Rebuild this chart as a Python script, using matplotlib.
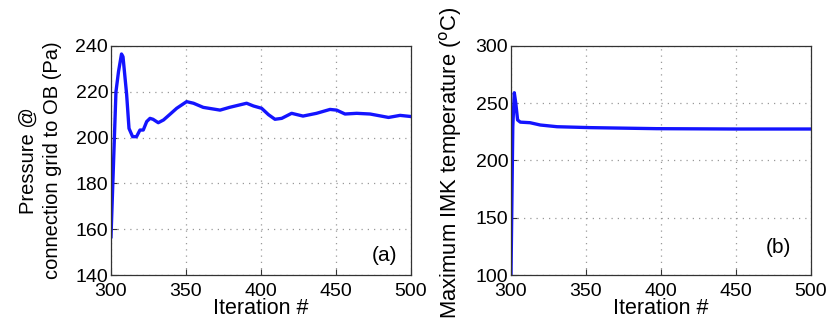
import matplotlib
matplotlib.use("Agg")
import matplotlib.pyplot as plt

plt.rcParams['font.family'] = ['Liberation Sans', 'DejaVu Sans']

iter_a = [300, 303.3, 305, 307, 308, 310.4, 312, 314.4, 317, 319.3, 321.5, 323.8, 326, 328,
          331.5, 335, 339, 343.8, 350.4, 355, 361.5, 372.7, 379, 390.4, 395, 400.4, 405, 409.3,
          413.8, 420.4, 428, 437, 446, 450.4, 456, 463.8, 472.7, 485, 492.7, 500]
pressure = [156.7, 220, 228.8, 236.5, 235.3, 219, 204, 200.4, 200.4, 203.3, 203.3, 207, 208.4, 208,
            206.5, 207.7, 210, 212.8, 215.7, 215, 213.2, 212, 213.2, 215, 213.8, 212.8, 210, 208,
            208.4, 210.6, 209.4, 210.6, 212.3, 212, 210.3, 210.6, 210.3, 208.8, 209.7, 209.2]

iter_b = [300, 301.2, 302.2, 303.2, 304.4, 306.2, 312.7, 319.5, 330.7, 353, 397, 450, 500]
temperature = [100, 229.5, 259.2, 250, 235.4, 233.5, 233, 231, 229.5, 228.7, 227.8, 227.5, 227.5]

xticks = [300, 350, 400, 450, 500]
yticks_a = [140, 160, 180, 200, 220, 240]
yticks_b = [100, 150, 200, 250, 300]

fig = plt.figure(figsize=(8.29, 3.23), dpi=100)
ax1 = fig.add_axes([0.1339, 0.1486, 0.3619, 0.709])
ax2 = fig.add_axes([0.6164, 0.1486, 0.3619, 0.709])

panels = [
    (ax1, iter_a, pressure, yticks_a, '(a)', (0.913, 0.087),
     'Pressure @\nconnection grid to OB (Pa)', 14.5, -0.165, 0.5),
    (ax2, iter_b, temperature, yticks_b, '(b)', (0.89, 0.122),
     'Maximum IMK temperature ($^{\\mathrm{o}}$C)', 15.8, -0.155, 0.49),
]

for ax, x, y, yt, lab, labpos, ylab, yfs, ylx, yly in panels:
    ax.plot(x, y, color='#1414ff', lw=2.4)
    ax.set_xlim(300, 500)
    ax.set_ylim(yt[0], yt[-1])
    ax.set_xticks(xticks)
    ax.set_yticks(yt)
    ax.grid(True, linestyle=(0, (1, 4)), color='#999999', lw=0.9)
    ax.tick_params(direction='in', length=4, width=0.8, labelsize=14, color='#333333')
    ax.tick_params(axis='x', pad=5.5)
    ax.tick_params(axis='y', pad=2)
    for s in ax.spines.values():
        s.set_color('#333333')
        s.set_linewidth(0.9)
    ax.set_xlabel('Iteration #', fontsize=15.5, labelpad=-1)
    ax.set_ylabel(ylab, fontsize=yfs, linespacing=1.3)
    ax.yaxis.set_label_coords(ylx, yly)
    ax.text(labpos[0], labpos[1], lab, transform=ax.transAxes, fontsize=15,
            ha='center', va='center')

fig.savefig('out.png', dpi=100)
